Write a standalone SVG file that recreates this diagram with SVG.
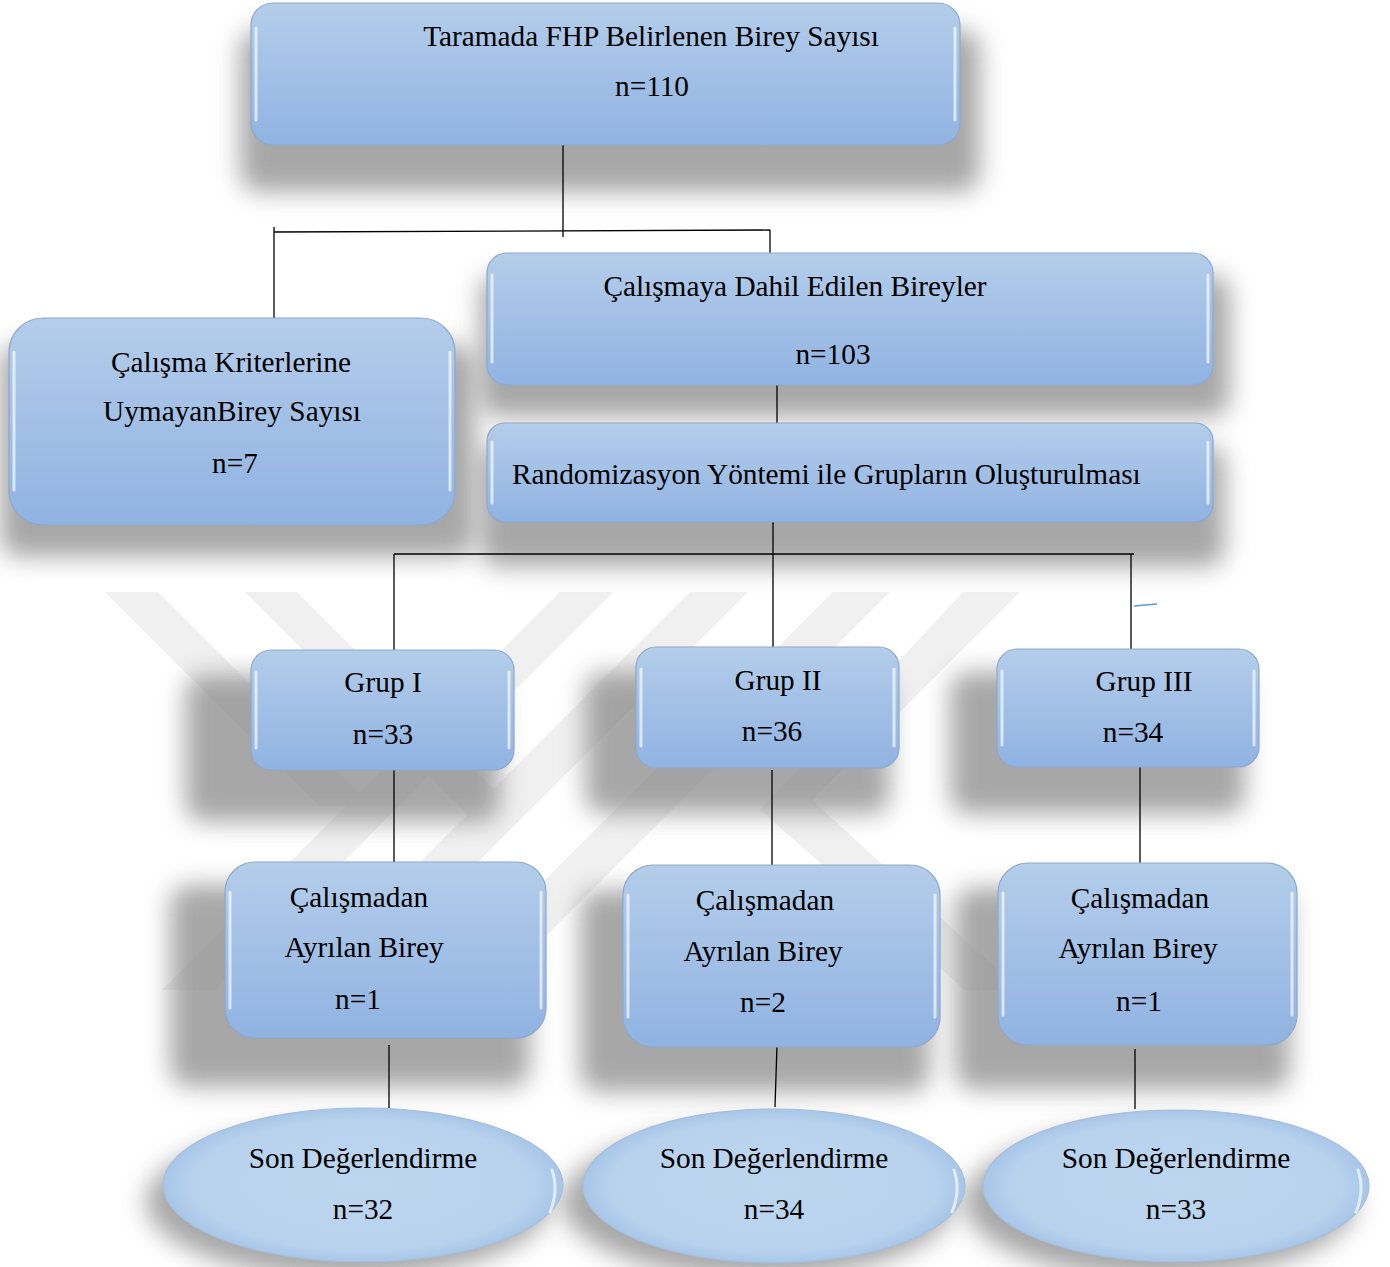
<svg xmlns="http://www.w3.org/2000/svg" width="1390" height="1267" viewBox="0 0 1390 1267">
<defs>
<linearGradient id="boxg" x1="0" y1="0" x2="0" y2="1">
<stop offset="0" stop-color="#b4cdea"/>
<stop offset="1" stop-color="#90b3e2"/>
</linearGradient>
<radialGradient id="ellg" cx="0.5" cy="0.5" r="0.5">
<stop offset="0" stop-color="#bdd6ef"/>
<stop offset="0.85" stop-color="#b8d2ee"/>
<stop offset="1" stop-color="#a8c6e8"/>
</radialGradient>
<filter id="blur" x="-30%" y="-30%" width="160%" height="160%">
<feGaussianBlur stdDeviation="12"/>
</filter>
</defs>
<style>
.wm{fill:#f0f0f0}
.shd{fill:#8a8a8a;opacity:0.75;filter:url(#blur)}
.box{fill:url(#boxg);stroke:#8ea9cc;stroke-width:1.2}
.ell{fill:url(#ellg);stroke:#a5bedb;stroke-width:1.2}
.gl{fill:none;stroke:#ffffff;stroke-width:3;opacity:0.65;stroke-linecap:round}
.t{font-family:"Liberation Serif","Times New Roman",serif;font-size:29.3px;fill:#000;text-anchor:middle}
.c{stroke:#000;stroke-width:1.3;fill:none}
</style>
<rect x="0" y="0" width="1390" height="1267" fill="#ffffff"/>
<g id="watermark">
<polygon class="wm" points="105,592 158,592 372,806 319,806"/>
<polygon class="wm" points="560,592 613,592 215,990 162,990"/>
<polygon class="wm" points="245,592 297,592 522,817 470,817"/>
<polygon class="wm" points="690,592 748,592 350,990 292,990"/>
<polygon class="wm" points="833,592 890,592 492,990 435,990"/>
<polygon class="wm" points="963,592 1020,592 812,800 790,830 760,810"/>
<polygon class="wm" points="760,810 812,800 1020,990 965,990"/>
</g>
<g id="shadows">
<rect class="shd" x="240" y="30" width="740" height="162" rx="20"/>
<rect class="shd" x="0" y="345" width="475" height="212" rx="20"/>
<rect class="shd" x="480" y="275" width="750" height="142" rx="20"/>
<rect class="shd" x="480" y="445" width="745" height="122" rx="20"/>
<rect class="shd" x="185" y="675" width="315" height="147" rx="20"/>
<rect class="shd" x="585" y="672" width="305" height="142" rx="20"/>
<rect class="shd" x="950" y="672" width="295" height="142" rx="20"/>
<rect class="shd" x="170" y="885" width="360" height="202" rx="20"/>
<rect class="shd" x="580" y="890" width="350" height="202" rx="20"/>
<rect class="shd" x="955" y="888" width="335" height="202" rx="20"/>
<ellipse class="shd" cx="348" cy="1202" rx="202" ry="76"/>
<ellipse class="shd" cx="758" cy="1202" rx="196" ry="76"/>
<ellipse class="shd" cx="1160" cy="1202" rx="196" ry="76"/>
</g>
<g id="connectors">
<line class="c" x1="563" y1="142" x2="563" y2="237"/>
<line class="c" x1="274" y1="232" x2="770" y2="230"/>
<line class="c" x1="274" y1="227" x2="274" y2="318"/>
<line class="c" x1="770" y1="230" x2="770" y2="253"/>
<line class="c" x1="777" y1="385" x2="777" y2="423"/>
<line class="c" x1="773" y1="522" x2="773" y2="650"/>
<line class="c" x1="394" y1="554" x2="1134" y2="554"/>
<line class="c" x1="394" y1="554" x2="394" y2="650"/>
<line class="c" x1="1131" y1="554" x2="1131" y2="652"/>
<line x1="1134" y1="606" x2="1157" y2="604" stroke="#5b9bd5" stroke-width="1.5"/>
<line class="c" x1="394" y1="768" x2="394" y2="862"/>
<line class="c" x1="772" y1="770" x2="772" y2="866"/>
<line class="c" x1="1140" y1="767" x2="1140" y2="864"/>
<line class="c" x1="389" y1="1045" x2="389" y2="1108"/>
<line class="c" x1="777" y1="1045" x2="775" y2="1107"/>
<line class="c" x1="1135" y1="1049" x2="1135" y2="1109"/>
</g>
<g id="n-tarama">
<rect class="box" x="251" y="3" width="709" height="142" rx="22"/>
<line class="gl" x1="256" y1="28" x2="256" y2="120"/>
<line class="gl" x1="955" y1="28" x2="955" y2="120"/>
<text class="t" x="651" y="46">Taramada FHP Belirlenen Birey Sayısı</text>
<text class="t" x="652" y="96">n=110</text>
</g>
<g id="n-kriter">
<rect class="box" x="9" y="318" width="446" height="207" rx="34"/>
<line class="gl" x1="14" y1="352" x2="14" y2="490"/>
<line class="gl" x1="450" y1="352" x2="450" y2="490"/>
<text class="t" x="231" y="372">Çalışma Kriterlerine</text>
<text class="t" x="232" y="421">UymayanBirey Sayısı</text>
<text class="t" x="235" y="473">n=7</text>
</g>
<g id="n-dahil">
<rect class="box" x="487" y="253" width="726" height="132" rx="20"/>
<line class="gl" x1="492" y1="275" x2="492" y2="362"/>
<line class="gl" x1="1208" y1="275" x2="1208" y2="362"/>
<text class="t" x="795" y="296">Çalışmaya Dahil Edilen Bireyler</text>
<text class="t" x="833" y="364">n=103</text>
</g>
<g id="n-random">
<rect class="box" x="487" y="423" width="726" height="99" rx="18"/>
<line class="gl" x1="492" y1="442" x2="492" y2="503"/>
<line class="gl" x1="1208" y1="442" x2="1208" y2="503"/>
<text class="t" x="512" y="484" style="text-anchor:start">Randomizasyon Yöntemi ile Grupların Oluşturulması</text>
</g>
<g id="n-grup1">
<rect class="box" x="251" y="650" width="263" height="120" rx="20"/>
<line class="gl" x1="256" y1="672" x2="256" y2="748"/>
<line class="gl" x1="509" y1="672" x2="509" y2="748"/>
<text class="t" x="383" y="692">Grup I</text>
<text class="t" x="383" y="744">n=33</text>
</g>
<g id="n-grup2">
<rect class="box" x="636" y="647" width="263" height="121" rx="20"/>
<line class="gl" x1="641" y1="669" x2="641" y2="746"/>
<line class="gl" x1="894" y1="669" x2="894" y2="746"/>
<text class="t" x="778" y="690">Grup II</text>
<text class="t" x="772" y="741">n=36</text>
</g>
<g id="n-grup3">
<rect class="box" x="997" y="649" width="262" height="118" rx="20"/>
<line class="gl" x1="1002" y1="671" x2="1002" y2="745"/>
<line class="gl" x1="1254" y1="671" x2="1254" y2="745"/>
<text class="t" x="1144" y="691">Grup III</text>
<text class="t" x="1133" y="742">n=34</text>
</g>
<g id="n-ayrilan1">
<rect class="box" x="225" y="862" width="321" height="176" rx="30"/>
<line class="gl" x1="230" y1="892" x2="230" y2="1008"/>
<line class="gl" x1="541" y1="892" x2="541" y2="1008"/>
<text class="t" x="359" y="907">Çalışmadan</text>
<text class="t" x="364" y="957">Ayrılan Birey</text>
<text class="t" x="358" y="1009">n=1</text>
</g>
<g id="n-ayrilan2">
<rect class="box" x="623" y="865" width="317" height="182" rx="30"/>
<line class="gl" x1="628" y1="895" x2="628" y2="1017"/>
<line class="gl" x1="935" y1="895" x2="935" y2="1017"/>
<text class="t" x="765" y="910">Çalışmadan</text>
<text class="t" x="763" y="961">Ayrılan Birey</text>
<text class="t" x="763" y="1012">n=2</text>
</g>
<g id="n-ayrilan3">
<rect class="box" x="998" y="863" width="299" height="182" rx="30"/>
<line class="gl" x1="1003" y1="893" x2="1003" y2="1015"/>
<line class="gl" x1="1292" y1="893" x2="1292" y2="1015"/>
<text class="t" x="1140" y="908">Çalışmadan</text>
<text class="t" x="1138" y="958">Ayrılan Birey</text>
<text class="t" x="1139" y="1011">n=1</text>
</g>
<g id="n-son1">
<ellipse class="ell" cx="363" cy="1185" rx="200" ry="77"/>
<path class="gl" d="M552,1170 Q559,1190 550,1212" opacity="0.35"/>
<text class="t" x="363" y="1168">Son Değerlendirme</text>
<text class="t" x="363" y="1219">n=32</text>
</g>
<g id="n-son2">
<ellipse class="ell" cx="774" cy="1186" rx="191" ry="77"/>
<path class="gl" d="M954,1170 Q961,1190 952,1212" opacity="0.35"/>
<text class="t" x="774" y="1168">Son Değerlendirme</text>
<text class="t" x="774" y="1219">n=34</text>
</g>
<g id="n-son3">
<ellipse class="ell" cx="1176" cy="1186" rx="193" ry="76"/>
<path class="gl" d="M1358,1170 Q1365,1190 1356,1212" opacity="0.35"/>
<text class="t" x="1176" y="1168">Son Değerlendirme</text>
<text class="t" x="1176" y="1219">n=33</text>
</g>
</svg>
